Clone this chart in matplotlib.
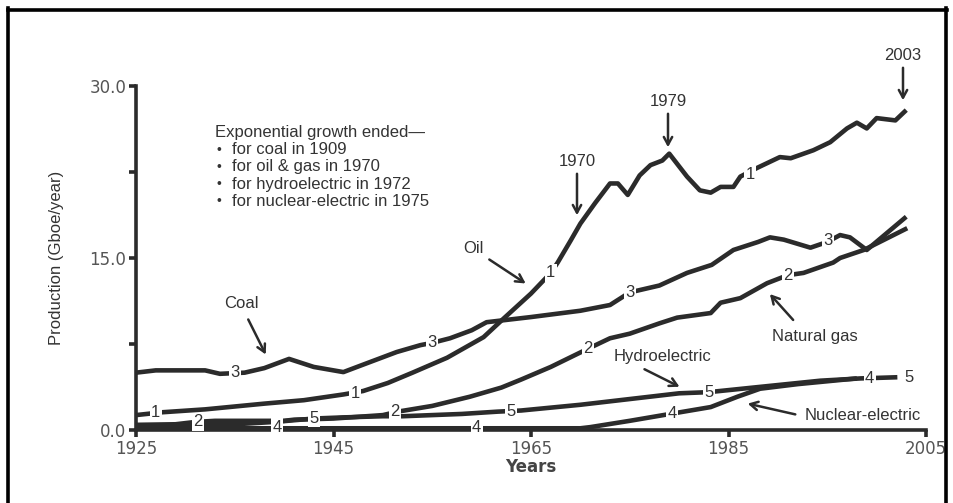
import matplotlib
matplotlib.use('Agg')
import matplotlib.pyplot as plt
from matplotlib.lines import Line2D

# World energy production by source (Gboe/year)
coal_years = [1925, 1927, 1932, 1933.5, 1936, 1938, 1940.5, 1943, 1946, 1948, 1951.4, 1953.8, 1955,
              1956.8, 1959, 1960.5, 1965, 1970, 1973, 1975, 1978, 1980.8, 1983.3, 1985.5, 1988,
              1989.2, 1990.6, 1993.3, 1995, 1996.3, 1997.3, 1999, 2003]
coal_vals = [5.0, 5.2, 5.2, 4.9, 5.0, 5.4, 6.2, 5.5, 5.05, 5.7, 6.8, 7.4, 7.6,
             8.0, 8.7, 9.4, 9.85, 10.4, 10.9, 12.0, 12.6, 13.7, 14.4, 15.7, 16.4,
             16.8, 16.6, 15.9, 16.4, 17.0, 16.8, 15.7, 18.6]

oil_years = [1925, 1927.7, 1932, 1938, 1942, 1946, 1948, 1950.5, 1953, 1956.5, 1960.2, 1962.2, 1965,
             1967, 1967.7, 1969, 1970, 1971.5, 1973, 1973.8, 1974.8, 1976, 1977.1, 1978.3, 1979,
             1980.8, 1982.1, 1983.2, 1984.2, 1985.5, 1986.2, 1988, 1990.2, 1991.3, 1993.6, 1995.3,
             1997, 1998, 1999, 2000, 2001.9, 2003]
oil_vals = [1.3, 1.55, 1.8, 2.3, 2.6, 3.1, 3.4, 4.1, 5.0, 6.3, 8.1, 9.7, 11.9,
            13.7, 14.6, 16.5, 18.0, 19.8, 21.5, 21.5, 20.5, 22.2, 23.1, 23.5, 24.1,
            22.1, 20.9, 20.7, 21.2, 21.2, 22.1, 22.9, 23.8, 23.7, 24.4, 25.1,
            26.3, 26.8, 26.3, 27.2, 27.0, 27.9]

gas_years = [1925, 1929, 1931, 1933, 1940, 1941, 1945, 1950, 1951.5, 1955, 1958.8, 1962, 1964, 1967,
             1970.8, 1973, 1975, 1978, 1979.8, 1983.2, 1984.2, 1986.2, 1988.9, 1991, 1992.6, 1995.6,
             1996.3, 1998.7, 2003.1]
gas_vals = [0.45, 0.5, 0.7, 0.8, 0.8, 0.9, 1.0, 1.3, 1.6, 2.1, 2.9, 3.7, 4.4, 5.5,
            7.1, 8.0, 8.4, 9.3, 9.8, 10.2, 11.1, 11.5, 12.8, 13.5, 13.7, 14.6,
            15.0, 15.7, 17.6]

hydro_years = [1925, 1930, 1935, 1939, 1943, 1946, 1950, 1952, 1958, 1961.6, 1964, 1970, 1974, 1980,
               1983, 1987.5, 1994.3, 1998.4, 2002.1]
hydro_vals = [0.3, 0.4, 0.5, 0.7, 1.0, 1.1, 1.2, 1.2, 1.4, 1.6, 1.7, 2.2, 2.6, 3.2,
              3.3, 3.7, 4.3, 4.5, 4.6]

nuc_years = [1925, 1970, 1971, 1975, 1978.4, 1983.2, 1985.9, 1988.2, 1992, 1998]
nuc_vals = [0.15, 0.15, 0.25, 0.8, 1.3, 2.0, 2.9, 3.6, 4.0, 4.5]

# numbered labels sitting on each curve
coal_lbl = [(1935, 5.0), (1955, 7.6), (1975, 12.0), (1995.1, 16.5)]
oil_lbl = [(1927, 1.5), (1947.2, 3.2), (1967, 13.7), (1987.2, 22.3)]
gas_lbl = [(1931.3, 0.7), (1951.2, 1.6), (1970.8, 7.1), (1991, 13.5)]
hydro_lbl = [(1943, 1.0), (1963, 1.6), (1983, 3.3), (2003.3, 4.6)]
nuc_lbl = [(1939.3, 0.25), (1959.5, 0.25), (1979.3, 1.4), (1999.3, 4.5)]

notes = ['Exponential growth ended\u2014',
         'for coal in 1909',
         'for oil & gas in 1970',
         'for hydroelectric in 1972',
         'for nuclear-electric in 1975']

W, H = 954, 503
ink = '#2b2b2b'
grey = '#555555'


def px(x, y):
    return (x / W, 1 - y / H)


fig = plt.figure(figsize=(W / 100, H / 100), dpi=100)
ax = fig.add_axes([136 / W, 1 - 430 / H, 790 / W, 344 / H])

series = [(coal_years, coal_vals, '3', coal_lbl),
          (oil_years, oil_vals, '1', oil_lbl),
          (gas_years, gas_vals, '2', gas_lbl),
          (hydro_years, hydro_vals, '5', hydro_lbl),
          (nuc_years, nuc_vals, '4', nuc_lbl)]
for xs, ys, num, lbls in series:
    ax.plot(xs, ys, color=ink, lw=3.3, solid_capstyle='butt', clip_on=False, zorder=3)
    for lx, ly in lbls:
        ax.text(lx, ly, num, fontsize=12, color='#333333', family='Liberation Sans',
                ha='center', va='center', zorder=4,
                bbox=dict(boxstyle='square,pad=0.08', fc='white', ec='none'))

ax.set_xlim(1925, 2005)
ax.set_ylim(0, 30)
ax.set_xticks([1925, 1945, 1965, 1985, 2005])
ax.set_yticks([0, 15, 30])
ax.set_yticklabels(['0.0', '15.0', '30.0'])
ax.set_yticks([7.5, 22.5], minor=True)
for side in ['top', 'right']:
    ax.spines[side].set_visible(False)
for side in ['left', 'bottom']:
    ax.spines[side].set_linewidth(2.6)
    ax.spines[side].set_color(ink)
ax.tick_params(which='both', direction='out', length=5, width=2.6, color=ink,
               labelsize=12, labelcolor=grey, pad=2)
ax.set_xlabel('Years', fontsize=12, fontweight='bold', color='#444444', labelpad=0)
ax.set_ylabel('Production (Gboe/year)', fontsize=12, color='#333333',
              family='Liberation Sans', labelpad=18)

# callouts
arrow = dict(arrowstyle='->,head_length=0.55,head_width=0.3', color=ink, lw=1.8)
callouts = [('Coal', (241, 303), (247, 317), (267, 357)),
            ('Oil', (473, 248), (487, 258), (528, 285)),
            ('1970', (577, 161), (577, 171), (577, 218)),
            ('1979', (668, 102), (668, 111), (668, 150)),
            ('2003', (903, 56), (903, 65), (903, 103)),
            ('Natural gas', (815, 336), (795, 322), (768, 292)),
            ('Hydroelectric', (663, 356), (642, 368), (682, 388)),
            ('Nuclear-electric', (863, 415), (798, 415), (745, 403))]
for txt, tpos, tail, head in callouts:
    fig.text(*px(*tpos), txt, fontsize=12, color='#333333', family='Liberation Sans',
             ha='center', va='center')
    ax.annotate('', xy=px(*head), xycoords='figure fraction',
                xytext=px(*tail), textcoords='figure fraction', arrowprops=arrow)

fig.text(*px(215, 133), notes[0], fontsize=12, color='#333333', family='Liberation Sans',
         va='center')
for i, line in enumerate(notes[1:]):
    y = 150 + 17 * i
    fig.text(*px(217, y), '\u2022', fontsize=10, color='#333333', family='Liberation Sans',
             va='center')
    fig.text(*px(232, y), line, fontsize=12, color='#333333', family='Liberation Sans',
             va='center')

# scanned frame
for xs, ys in [([8, 947], [9.5, 9.5]), ([8.5, 8.5], [8, 503]), ([946.5, 946.5], [8, 503])]:
    fig.add_artist(Line2D([x / W for x in xs], [1 - y / H for y in ys], color='black', lw=2.6))

fig.savefig('out.png', dpi=100)
